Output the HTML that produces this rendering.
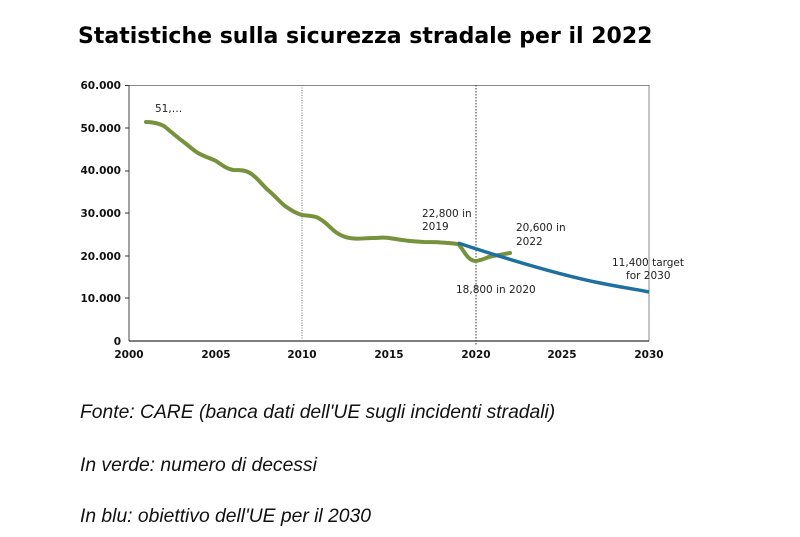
<!DOCTYPE html>
<html><head><meta charset="utf-8"><style>
body{margin:0;background:#fff;width:800px;height:537px;overflow:hidden;font-family:"Liberation Sans",sans-serif}
.t{position:absolute;left:78px;top:24px;font-family:"DejaVu Sans",sans-serif;font-size:22px;font-weight:bold;color:#000;white-space:nowrap}
.i{position:absolute;left:80px;font-size:19.3px;font-style:italic;color:#111}
</style></head><body>
<div class="t">Statistiche sulla sicurezza stradale per il 2022</div>
<svg width="800" height="537" style="position:absolute;left:0;top:0">
<g font-family="DejaVu Sans, sans-serif" font-weight="bold" font-size="10.5" fill="#111" text-anchor="end">
<text x="121" y="89">60.000</text><text x="121" y="132">50.000</text><text x="121" y="174">40.000</text>
<text x="121" y="217">30.000</text><text x="121" y="260">20.000</text><text x="121" y="302">10.000</text><text x="121" y="345">0</text>
</g>
<g font-family="DejaVu Sans, sans-serif" font-weight="bold" font-size="10.5" fill="#111" text-anchor="middle">
<text x="129" y="358">2000</text><text x="216" y="358">2005</text><text x="302" y="358">2010</text><text x="389" y="358">2015</text>
<text x="476" y="358">2020</text><text x="562" y="358">2025</text><text x="649" y="358">2030</text>
</g>
<line x1="129" y1="85.5" x2="649" y2="85.5" stroke="#888" stroke-width="1"/>
<line x1="649" y1="85" x2="649" y2="341" stroke="#888" stroke-width="1"/>
<line x1="129" y1="85" x2="129" y2="341" stroke="#444" stroke-width="1"/>
<line x1="129" y1="341" x2="649" y2="341" stroke="#333" stroke-width="1.2"/>
<g stroke="#333">
<line x1="125" y1="85.5" x2="129" y2="85.5"/><line x1="125" y1="128" x2="129" y2="128"/><line x1="125" y1="171" x2="129" y2="171"/>
<line x1="125" y1="213" x2="129" y2="213"/><line x1="125" y1="256" x2="129" y2="256"/><line x1="125" y1="298" x2="129" y2="298"/>
</g>
<line x1="302" y1="85" x2="302" y2="341" stroke="#777" stroke-width="1" stroke-dasharray="1,1.5"/>
<line x1="476" y1="85" x2="476" y2="345" stroke="#333" stroke-width="1" stroke-dasharray="1.5,1.5"/>
<path d="M146,122 C152,122 158,123 164,126 C170,131 176,136 181,140 C188,145 193,150 198,153 C205,157 210,158 216,161 C222,165 227,169 233,170 C240,170 245,170 250,173 C258,178 262,185 268,190 C276,197 280,202 285,206 C292,211 298,214 302,215 C310,216 316,216 320,219 C327,223 331,229 337,233 C343,237 348,238 354,238.5 C362,239 366,238 372,238 C380,238 384,237 389,238 C396,239 401,240 406,240.5 C414,241.5 418,241.5 424,242 C432,242 436,242 441,242.5 C448,243 452,243 458,244 C463,248 467,261 476,261 C483,260 487,257 493,256 C500,255 504,254 510,253" fill="none" stroke="#76923c" stroke-width="4" stroke-linecap="round"/>
<path d="M458,243 C510,260 560,275 600,283 C625,288 640,290 649,292" fill="none" stroke="#1f6fa0" stroke-width="3.5"/>
<g font-family="DejaVu Sans, sans-serif" font-size="10.5" fill="#222">
<text x="155" y="112">51,…</text>
<text x="422" y="217">22,800 in</text><text x="422" y="230">2019</text>
<text x="516" y="231">20,600 in</text><text x="516" y="245">2022</text>
<text x="456" y="293">18,800 in 2020</text>
<text x="612" y="266">11,400 target</text><text x="626" y="279">for 2030</text>
</g>
</svg>
<div class="i" style="top:402px">Fonte: CARE (banca dati dell'UE sugli incidenti stradali)</div>
<div class="i" style="top:455px">In verde: numero di decessi</div>
<div class="i" style="top:506px">In blu: obiettivo dell'UE per il 2030</div>
</body></html>
